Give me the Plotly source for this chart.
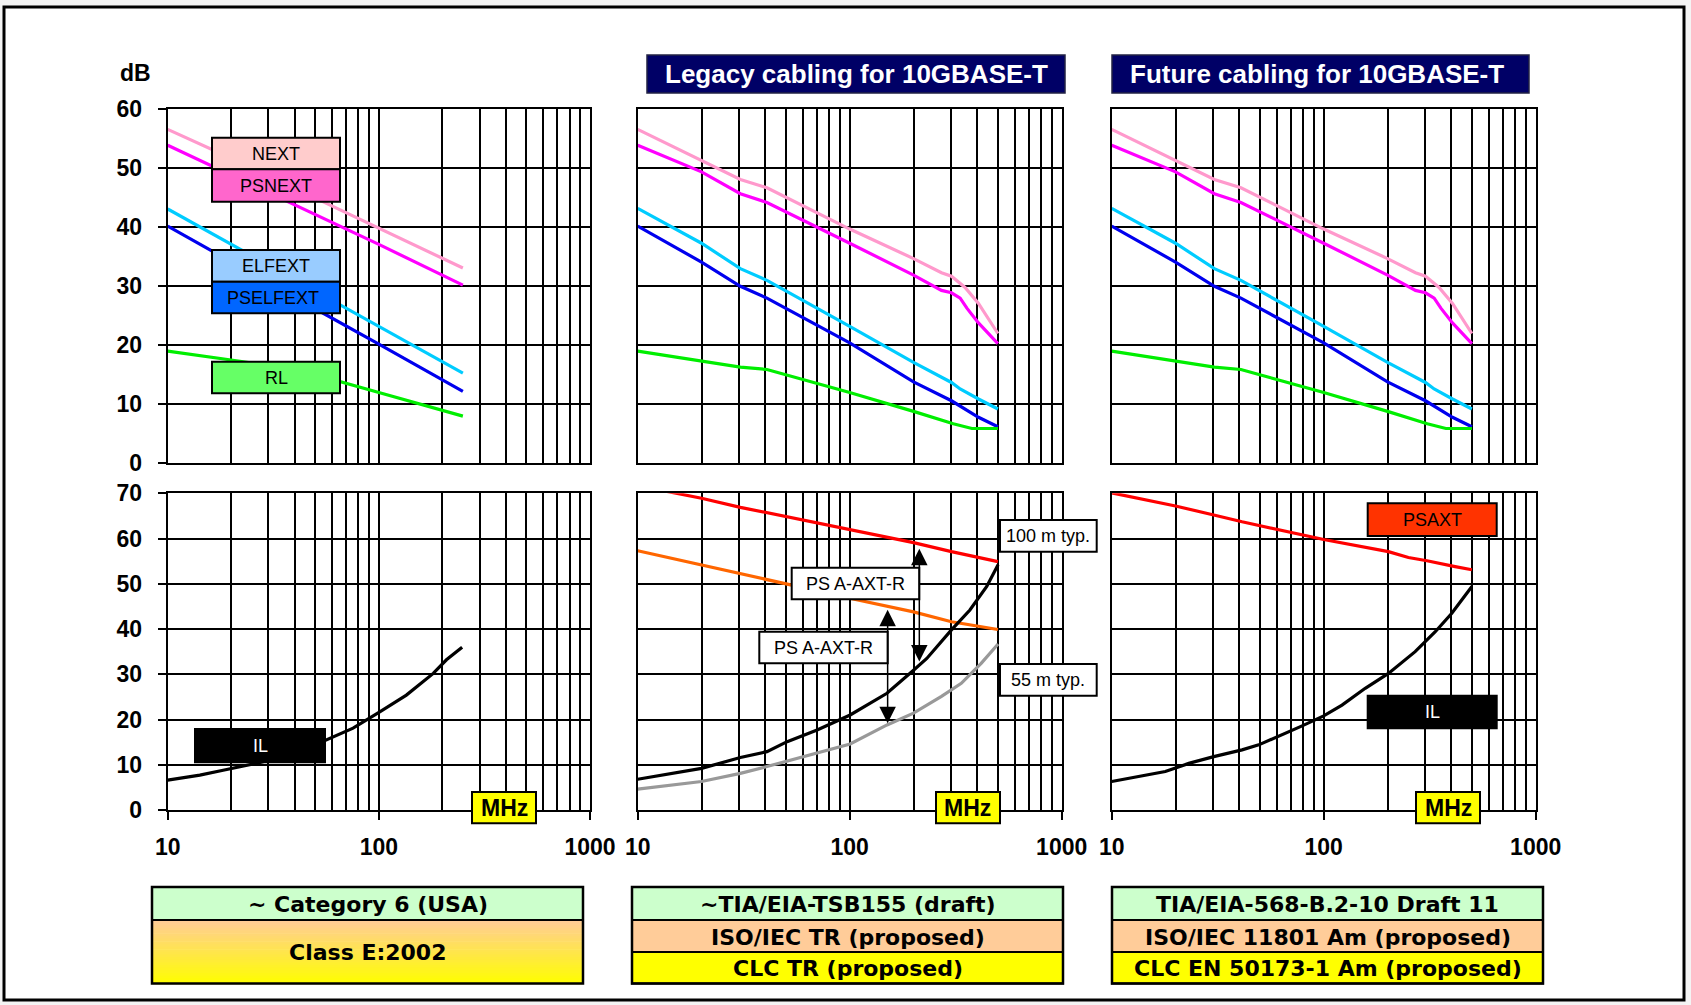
import numpy as np
import plotly.graph_objects as go

W, H = 1691, 1005

# ---------------- data ----------------
# Panel 1 (~Category 6 / Class E), 10..250 MHz
F_C6 = [10, 20, 40, 100, 250]
NEXT_C6 = [56.6, 51.7, 46.6, 39.9, 33.1]
PSNEXT_C6 = [53.9, 48.8, 43.8, 37.1, 30.2]
ELFEXT_C6 = [43.1, 37.1, 31.1, 23.2, 15.3]
PSELFEXT_C6 = [40.2, 34.1, 28.1, 20.2, 12.2]
RL_C6 = [19.0, 17.5, 16.0, 12.0, 8.0]
F_IL_C6 = [10, 14.2, 18.3, 20, 27.4, 40.8, 55.5, 75.5, 101, 135, 181, 209, 248]
IL_C6 = [6.6, 7.7, 8.8, 9.2, 10.5, 12.6, 15.4, 18.1, 21.7, 25.4, 30.2, 33.2, 36.0]

# Panels 2/3 (legacy / future cabling), 10..500 MHz
F_NEXT = [10, 20, 30.5, 40.7, 100, 200, 271, 302, 350, 405, 500]
NEXT_10G = [56.6, 51.4, 48.1, 46.7, 39.7, 34.7, 32.3, 31.7, 29.8, 27.1, 22.0]
F_PSNEXT = [10, 20, 30.5, 40.7, 100, 200, 271, 302, 332, 357, 405, 500]
PSNEXT_10G = [53.9, 49.4, 45.7, 44.2, 37.3, 31.9, 29.3, 28.9, 28.0, 26.3, 23.8, 20.3]
F_ELFEXT = [10, 20, 30.5, 40.7, 100, 200, 302, 332, 405, 500]
ELFEXT_10G = [43.2, 37.3, 33.0, 31.0, 23.2, 17.1, 13.7, 12.6, 10.9, 9.2]
F_PSELFEXT = [10, 20, 30.5, 40.7, 100, 200, 302, 405, 500]
PSELFEXT_10G = [40.2, 34.1, 30.0, 28.0, 20.4, 13.8, 10.6, 7.8, 6.2]
F_RL = [10, 20, 30.5, 40.7, 100, 200, 271, 308, 377, 500]
RL_10G = [19.0, 17.3, 16.3, 15.9, 12.0, 8.8, 7.3, 6.7, 5.9, 5.9]

# Legacy bottom
F_RED_L = [10, 13.7, 20, 30.5, 100, 200, 302, 500]
RED_L = [71.7, 70.4, 68.9, 66.9, 62.0, 59.1, 57.1, 54.9]
F_ORANGE_L = [10, 20, 30.5, 53.3, 100, 200, 302, 500]
ORANGE_L = [57.3, 54.2, 52.3, 49.7, 46.8, 43.8, 41.6, 39.9]
F_IL100_L = [10, 20, 30.5, 40.7, 50.7, 70.2, 100.5, 149.9, 200, 231, 302, 369, 443, 501]
IL100_L = [6.8, 9.2, 11.6, 12.9, 15.1, 17.7, 21.0, 25.8, 30.9, 33.5, 39.8, 44.2, 49.4, 54.2]
F_IL55_L = [10, 20, 30.5, 40.7, 100.5, 150, 200, 271, 336, 417, 501]
IL55_L = [4.6, 6.3, 8.1, 9.6, 14.6, 18.8, 21.4, 25.1, 28.0, 32.4, 36.7]

# Future bottom
F_RED_F = [10, 20, 30.3, 41.2, 100, 202, 251, 307, 417, 500]
RED_F = [70.1, 67.2, 65.2, 63.7, 59.8, 57.1, 55.8, 55.1, 53.8, 53.1]
F_IL_F = [10, 17.9, 23.1, 30.3, 41.2, 49.4, 79.1, 100, 122, 157, 202, 270, 336, 402, 500]
IL_F = [6.3, 8.5, 10.3, 11.8, 13.3, 14.4, 18.6, 20.8, 23.2, 26.9, 30.2, 35.0, 39.4, 43.5, 49.4]

# Arrows in legacy bottom panel (frequency, top dB, bottom dB)
ARROW_F = [213, 151]
ARROW_TOP = [58.1, 44.6]
ARROW_BOT = [32.8, 19.2]

X_TICKS = [10, 100, 1000]
X_MINOR = [20, 30, 40, 50, 60, 70, 80, 90, 200, 300, 400, 500, 600, 700, 800, 900]

TITLES = ["Legacy cabling for 10GBASE-T", "Future cabling for 10GBASE-T"]
TABLE = [
    ["~ Category 6 (USA)", "Class E:2002"],
    ["~TIA/EIA-TSB155 (draft)", "ISO/IEC TR (proposed)", "CLC TR (proposed)"],
    ["TIA/EIA-568-B.2-10 Draft 11", "ISO/IEC 11801 Am (proposed)", "CLC EN 50173-1 Am (proposed)"],
]

# colours
C_NEXT, C_PSNEXT, C_ELFEXT, C_PSELFEXT, C_RL = "#FF99CC", "#FF00FF", "#00CCFF", "#0000EE", "#00EE00"
C_RED, C_ORANGE, C_GRAY = "#FF0000", "#FF6600", "#999999"

FONT = "Liberation Sans, Arial, sans-serif"
WIDE = "DejaVu Sans, Liberation Sans, sans-serif"


def px(x):
    return x / W


def py(y):
    return 1 - y / H


PANEL_X = [(167.7, 590.0), (637.7, 1061.7), (1111.7, 1535.7)]
TOP_Y = (109.3, 463.3)
BOT_Y = (493.3, 810.0)

fig = go.Figure()


def add_line(n, f, v, color, width=3.2):
    fig.add_trace(go.Scatter(x=f, y=v, mode="lines", line=dict(color=color, width=width),
                             xaxis=f"x{n}", yaxis=f"y{n}", showlegend=False, hoverinfo="skip"))


# top panels
add_line(1, F_C6, NEXT_C6, C_NEXT)
add_line(1, F_C6, PSNEXT_C6, C_PSNEXT)
add_line(1, F_C6, ELFEXT_C6, C_ELFEXT)
add_line(1, F_C6, PSELFEXT_C6, C_PSELFEXT)
add_line(1, F_C6, RL_C6, C_RL)
for n in (2, 3):
    add_line(n, F_NEXT, NEXT_10G, C_NEXT)
    add_line(n, F_PSNEXT, PSNEXT_10G, C_PSNEXT)
    add_line(n, F_ELFEXT, ELFEXT_10G, C_ELFEXT)
    add_line(n, F_PSELFEXT, PSELFEXT_10G, C_PSELFEXT)
    add_line(n, F_RL, RL_10G, C_RL)
# bottom panels
add_line(4, F_IL_C6, IL_C6, "black")
add_line(5, F_RED_L, RED_L, C_RED)
add_line(5, F_ORANGE_L, ORANGE_L, C_ORANGE)
add_line(5, F_IL55_L, IL55_L, C_GRAY)
add_line(5, F_IL100_L, IL100_L, "black")
add_line(6, F_RED_F, RED_F, C_RED)
add_line(6, F_IL_F, IL_F, "black")

tickfont = dict(family=FONT, size=23, color="black", weight="bold")
layout = dict(
    width=W, height=H, autosize=False,
    margin=dict(l=0, r=0, t=0, b=0, pad=0, autoexpand=False),
    paper_bgcolor="#F4F4F4", plot_bgcolor="white",
    showlegend=False,
)
for i in range(6):
    n = i + 1
    col = i % 3
    bottom = i >= 3
    xd = PANEL_X[col]
    yd = BOT_Y if bottom else TOP_Y
    xa = dict(
        type="log", range=[1, 3], domain=[px(xd[0]), px(xd[1])], anchor=f"y{n}", automargin=False,
        showline=True, mirror=True, linecolor="black", linewidth=2,
        showgrid=True, gridcolor="black", gridwidth=2, zeroline=False,
        tickmode="array", tickvals=X_TICKS, ticktext=[str(t) for t in X_TICKS],
        minor=dict(tickmode="array", tickvals=X_MINOR, showgrid=True, gridcolor="black", gridwidth=2, ticks=""),
        showticklabels=bottom, ticks="outside" if bottom else "", ticklen=8, tickwidth=2, tickcolor="black",
        tickfont=tickfont, ticklabelstandoff=7, fixedrange=True,
    )
    ya = dict(
        range=[0, 70 if bottom else 60], domain=[py(yd[1]), py(yd[0])], anchor=f"x{n}", automargin=False,
        tickmode="linear", tick0=0, dtick=10,
        showline=True, mirror=True, linecolor="black", linewidth=2,
        showgrid=True, gridcolor="black", gridwidth=2, zeroline=False,
        showticklabels=(col == 0), ticks="outside" if col == 0 else "", ticklen=8, tickwidth=2, tickcolor="black",
        tickfont=tickfont, ticklabelstandoff=11, fixedrange=True,
    )
    layout["xaxis" if n == 1 else f"xaxis{n}"] = xa
    layout["yaxis" if n == 1 else f"yaxis{n}"] = ya
fig.update_layout(**layout)

shapes = []
annots = []


def rect(x0, y0, x1, y1, fill, line="black", lw=2, layer="above"):
    shapes.append(dict(type="rect", xref="paper", yref="paper", x0=px(x0), x1=px(x1), y0=py(y1), y1=py(y0),
                       fillcolor=fill, line=dict(color=line, width=lw), layer=layer))


def text(x, y, s, size=18, color="black", bold=False, family=FONT):
    annots.append(dict(xref="paper", yref="paper", x=px(x), y=py(y), text=s, showarrow=False,
                       xanchor="center", yanchor="middle",
                       font=dict(family=family, size=size, color=color, weight="bold" if bold else "normal")))


# outer frame
rect(4, 7, 1684, 1000, "white", "black", 3, layer="below")

# dB label
text(135, 73, "dB", size=23, bold=True)

# title boxes
rect(647, 55, 1065, 93, "#000066", "#222244", 1.5)
text(856, 74, TITLES[0], size=26, color="white", bold=True)
rect(1112, 55, 1529, 93, "#000066", "#222244", 1.5)
text(1317, 74, TITLES[1], size=26, color="white", bold=True)

# label boxes panel 1 top
rect(212, 137.7, 340, 169.3, "#FFCCCC"); text(276, 154, "NEXT")
rect(212, 169.3, 340, 201.7, "#FF66CC"); text(276, 186, "PSNEXT")
rect(212, 250, 340, 281.7, "#99CCFF"); text(276, 266, "ELFEXT")
rect(212, 281.7, 340, 313.3, "#0066FF"); text(273, 298, "PSELFEXT")
rect(212, 361.7, 340, 393.3, "#66FF66"); text(276, 378, "RL")
# IL box panel 1 bottom
rect(195, 729, 325, 762.3, "black"); text(260, 746, "IL", color="white")

# legacy bottom boxes
rect(791.7, 567.7, 919.3, 599.3, "white"); text(855.5, 584, "PS A-AXT-R")
rect(759.3, 631.7, 887.7, 663.3, "white"); text(823.5, 648, "PS A-AXT-R")
rect(1000, 520, 1096.7, 551.7, "white"); text(1048.3, 536, "100 m typ.")
rect(1000, 664, 1096.7, 695.7, "white"); text(1048.3, 680, "55 m typ.")

# future bottom boxes
rect(1367.7, 503.3, 1496.7, 536, "#FF3300"); text(1432, 520, "PSAXT")
rect(1367.7, 695.7, 1496.7, 728.3, "black"); text(1432, 712, "IL", color="white")

# MHz boxes
for x0 in (472, 936, 1416):
    rect(x0, 792, x0 + 64, 823.3, "#FFFF00")
    text(x0 + 32, 808, "MHz", size=23, bold=True)

# arrows (legacy bottom)
for f, top, bot in zip(ARROW_F, ARROW_TOP, ARROW_BOT):
    annots.append(dict(xref="x5", yref="y5", axref="x5", ayref="y5",
                       x=np.log10(f), y=bot, ax=np.log10(f), ay=top,
                       showarrow=True, arrowhead=2, arrowside="end+start", arrowsize=2.2,
                       arrowwidth=1.5, arrowcolor="black", standoff=0, startstandoff=0, text=""))

# bottom table
TX = [(152, 583), (632, 1063), (1112, 1543)]
RY = [887, 920, 952, 983.6]
x0, x1 = TX[0]
rect(x0, RY[0], x1, RY[1], "#CCFFCC", lw=0)
c0 = np.array([255, 204, 153]); c1 = np.array([255, 255, 0])
NS = 24
for k in range(NS):
    t = (k + 0.5) / NS
    c = (c0 + (c1 - c0) * t).astype(int)
    ya0 = RY[1] + (RY[3] - RY[1]) * k / NS
    ya1 = RY[1] + (RY[3] - RY[1]) * (k + 1) / NS + 0.6
    rect(x0, ya0, x1, ya1, f"rgb({c[0]},{c[1]},{c[2]})", lw=0)
shapes.append(dict(type="line", xref="paper", yref="paper", x0=px(x0), x1=px(x1), y0=py(RY[1]), y1=py(RY[1]),
                   line=dict(color="black", width=2), layer="above"))
rect(x0, RY[0], x1, RY[3], "rgba(0,0,0,0)", lw=2.5)
text((x0 + x1) / 2, (RY[0] + RY[1]) / 2 + 1, TABLE[0][0], size=22, bold=True, family=WIDE)
text((x0 + x1) / 2, (RY[1] + RY[3]) / 2 + 1, TABLE[0][1], size=22, bold=True, family=WIDE)
for col in (1, 2):
    x0, x1 = TX[col]
    for r, fill in enumerate(["#CCFFCC", "#FFCC99", "#FFFF00"]):
        rect(x0, RY[r], x1, RY[r + 1], fill, lw=2)
        text((x0 + x1) / 2, (RY[r] + RY[r + 1]) / 2 + 1, TABLE[col][r], size=22, bold=True, family=WIDE)
    rect(x0, RY[0], x1, RY[3], "rgba(0,0,0,0)", lw=2.5)

fig.update_layout(shapes=shapes, annotations=annots)

fig.write_html("out.html", config={"displayModeBar": False},
               post_script="document.body.style.margin='0px';document.body.style.overflow='hidden';")
